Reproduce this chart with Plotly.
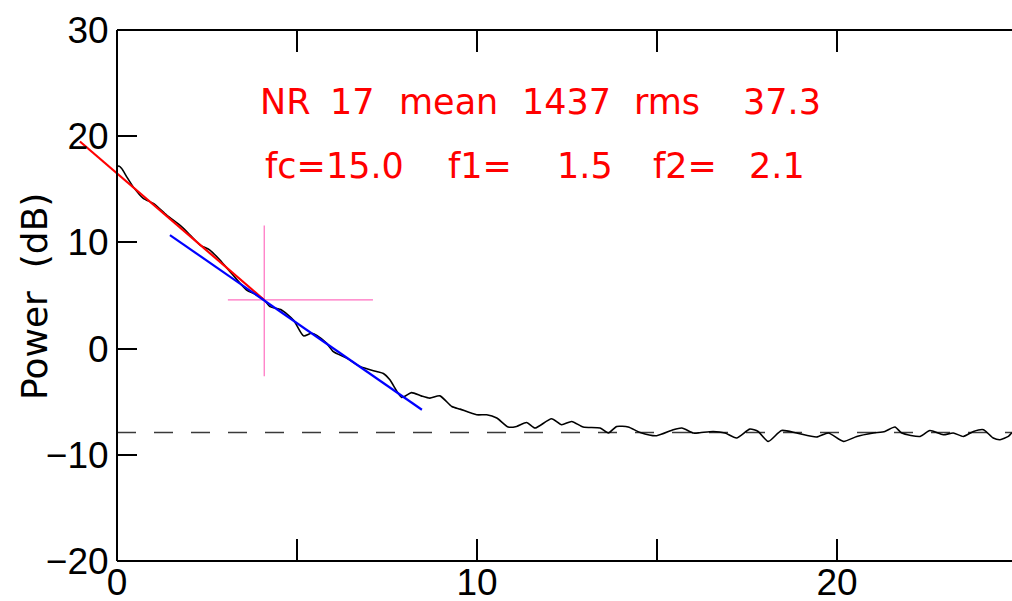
import plotly.graph_objects as go

# ---- data ----
freq = [0.0, 0.05, 0.13, 0.27, 0.45, 0.73, 1.01, 1.38, 1.80, 2.03, 2.31, 2.58, 2.86,
        3.14, 3.42, 3.60, 3.88, 4.09, 4.25, 4.57, 4.90, 5.18, 5.40, 5.55, 5.82, 6.01,
        6.38, 6.75, 7.21, 7.40, 7.58, 7.91, 8.18, 8.45, 8.69, 8.97, 9.30, 9.53, 9.99,
        10.27, 10.55, 10.87, 11.10, 11.38, 11.61, 12.07, 12.35, 12.63, 12.95, 13.42,
        13.65, 13.88, 14.20, 14.53, 14.99, 15.45, 15.69, 16.01, 16.19, 16.56, 16.89,
        17.21, 17.58, 17.81, 18.09, 18.46, 18.88, 19.43, 19.76, 20.18, 20.55, 21.01,
        21.33, 21.61, 21.80, 22.31, 22.58, 22.95, 23.23, 23.51, 23.79, 24.07, 24.34,
        24.53, 24.76, 24.86, 25.0]
power = [17.1, 17.2, 16.95, 16.17, 15.23, 14.14, 13.67, 12.57, 11.47, 10.69, 9.75, 9.28, 8.34,
         7.24, 6.15, 5.52, 5.05, 4.58, 3.95, 3.64, 2.70, 1.20, 1.45, 1.25, 0.51, -0.28,
         -0.90, -1.69, -2.16, -2.35, -2.94, -4.60, -4.15, -4.45, -4.66, -4.45, -5.45, -5.70, -6.23,
         -6.23, -6.54, -7.39, -7.33, -6.96, -7.48, -6.61, -7.17, -6.86, -7.39, -7.48,
         -7.95, -7.33, -7.39, -7.89, -8.20, -7.64, -7.48, -7.95, -7.92, -7.80, -7.95,
         -8.42, -7.58, -7.80, -8.74, -7.71, -7.95, -8.33, -7.95, -8.74, -8.27, -7.95,
         -7.80, -7.39, -7.95, -8.27, -7.71, -8.11, -7.95, -8.27, -7.80, -7.64, -8.42,
         -8.58, -8.27, -7.95, -8.2]

fit1_x = [-1.03, 4.09]
fit1_y = [19.5, 4.58]
fit2_x = [1.47, 8.47]
fit2_y = [10.69, -5.76]
noise_x = [0.0, 25.0]
noise_y = [-7.9, -7.9]
cross_x = [3.08, 7.11, None, 4.09, 4.09]
cross_y = [4.58, 4.58, None, 11.6, -2.6]

x_tickvals = [0, 5, 10, 15, 20, 25]
x_ticktext = ["0", "", "10", "", "20", ""]
y_tickvals = [-20, -10, 0, 10, 20, 30]
y_ticktext = ["\u221220", "\u221210", "0", "10", "20", "30"]

info_words = [  # (text, centre pixel x on page, line)
    ("NR", 285, 1), ("17", 352, 1), ("mean", 448, 1), ("1437", 566, 1),
    ("rms", 667, 1), ("37.3", 782, 1),
    ("fc=15.0", 334, 2), ("f1=", 480, 2), ("1.5", 585, 2), ("f2=", 685, 2), ("2.1", 777, 2),
]

# ---- layout geometry (page margin removed via post_script) ----
W, H = 1012, 601
L, T, B, R = 74, 30, 40, 0
PXU = 36.0
x0_px = 117
xmin = -(x0_px - L) / PXU
xmax = xmin + (W - L - R) / PXU
p0 = (0 - xmin) / (xmax - xmin)
plot_w = W - L - R
plot_h = H - T - B


def px_to_paper_x(px):
    return (px - L) / plot_w


def py_to_paper_y(py):
    return (H - B - py) / plot_h


fig = go.Figure()
fig.add_trace(go.Scatter(x=noise_x, y=noise_y, mode="lines",
                         line=dict(color="#3a3a3a", width=1.6, dash="19px,18px"),
                         showlegend=False, hoverinfo="skip"))
fig.add_trace(go.Scatter(x=freq, y=power, mode="lines",
                         line=dict(color="black", width=1.6, shape="spline", smoothing=0.6),
                         showlegend=False))
fig.add_trace(go.Scatter(x=cross_x, y=cross_y, mode="lines",
                         line=dict(color="#ff6fc0", width=1.2),
                         showlegend=False, hoverinfo="skip"))
fig.add_trace(go.Scatter(x=fit1_x, y=fit1_y, mode="lines",
                         line=dict(color="#ff0000", width=2.2),
                         showlegend=False))
fig.add_trace(go.Scatter(x=fit2_x, y=fit2_y, mode="lines",
                         line=dict(color="#0000ff", width=2.2),
                         showlegend=False))

tickfont = dict(family="Liberation Sans, Arial, sans-serif", size=37, color="black")

fig.update_layout(
    template="none",
    width=W, height=H,
    margin=dict(l=L, r=R, t=T, b=B, pad=0),
    paper_bgcolor="white", plot_bgcolor="white",
    showlegend=False,
    xaxis=dict(range=[xmin, xmax], tickvals=x_tickvals, ticktext=x_ticktext,
               ticks="inside", ticklen=22, tickwidth=2, tickcolor="black",
               showline=False, mirror="ticks", showgrid=False, zeroline=False,
               tickfont=tickfont, automargin=False, ticklabelstandoff=-4),
    yaxis=dict(range=[-20, 30], tickvals=y_tickvals, ticktext=y_ticktext,
               ticks="inside", ticklen=19, tickwidth=2, tickcolor="black",
               showline=True, linewidth=2, linecolor="black",
               anchor="free", position=p0,
               showgrid=False, zeroline=False, tickfont=tickfont, automargin=False),
    yaxis2=dict(range=[-20, 30], tickvals=y_tickvals, overlaying="y", side="right",
                anchor="x", ticks="inside", ticklen=14, tickwidth=2, tickcolor="black",
                showticklabels=False, showline=False,
                showgrid=False, zeroline=False, automargin=False),
)

# frame lines (top / bottom) starting at the y axis
for yy in (0, 1):
    fig.add_shape(type="line", xref="paper", yref="paper", x0=p0, x1=1.0, y0=yy, y1=yy,
                  line=dict(color="black", width=2), layer="above")

# y axis title
fig.add_annotation(text="Power\u00a0\u00a0(dB)", xref="paper", yref="paper",
                   x=px_to_paper_x(35), y=py_to_paper_y(297), textangle=-90,
                   xanchor="center", yanchor="middle", showarrow=False,
                   font=dict(family="DejaVu Sans, sans-serif", size=36, color="black"))

for txt, cx, line in info_words:
    cy = 102.5 if line == 1 else 165.5
    fig.add_annotation(text=txt, xref="paper", yref="paper",
                       x=px_to_paper_x(cx), y=py_to_paper_y(cy),
                       xanchor="center", yanchor="middle", showarrow=False,
                       font=dict(family="DejaVu Sans, sans-serif", size=35, color="#ff0000"))

fig.write_html(
    "out.html",
    config={"displayModeBar": False},
    post_script=("document.documentElement.style.margin='0';"
                 "document.body.style.margin='0';"
                 "document.documentElement.style.overflow='hidden';"
                 "document.body.style.overflow='hidden';"),
)
